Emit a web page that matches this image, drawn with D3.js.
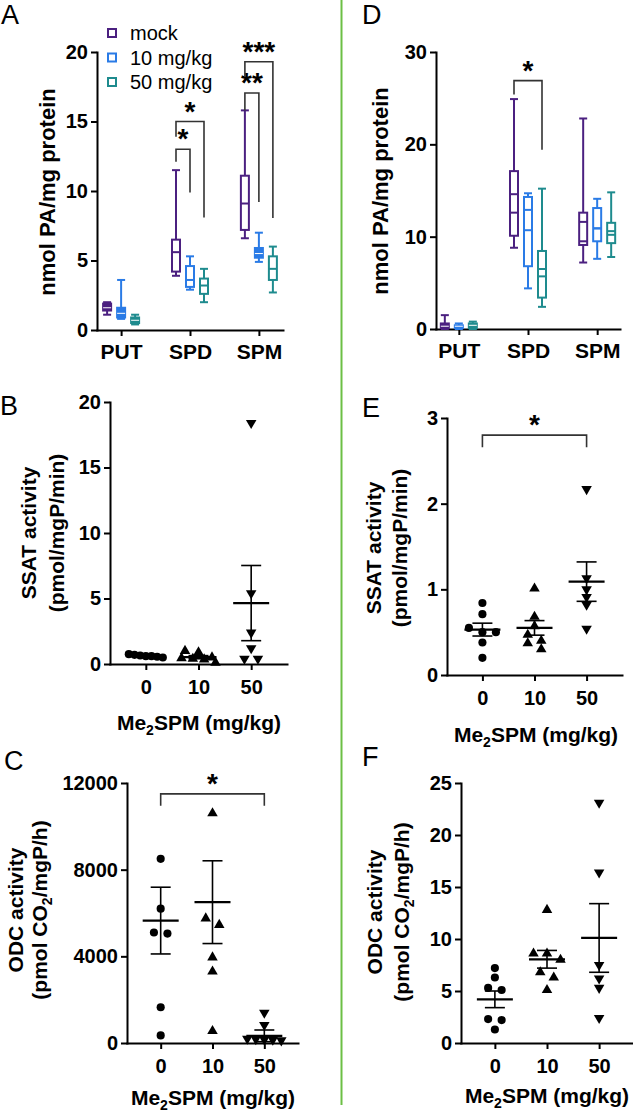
<!DOCTYPE html>
<html><head><meta charset="utf-8">
<script src="https://cdn.jsdelivr.net/npm/d3@7"></script>
<style>
body{margin:0;background:#fff;}
svg{display:block;}
</style></head><body>
<svg id="fig" width="633" height="1115"></svg>
<script>
// ---------- DATA ----------
const categories = ["PUT", "SPD", "SPM"];
const treatments = ["mock", "10 mg/kg", "50 mg/kg"];
const doses = ["0", "10", "50"];

// Panel A box stats [min, q1, median, q3, max] per category
const aMock = [[1.1, 1.4, 1.6, 1.9, 2.0], [3.9, 4.2, 5.6, 6.5, 11.5], [6.6, 7.2, 9.1, 11.1, 15.8]];
const a10   = [[0.8, 0.9, 1.2, 1.6, 3.6], [2.9, 3.1, 3.6, 4.6, 5.3], [4.9, 5.2, 5.5, 5.9, 7.0]];
const a50   = [[0.4, 0.5, 0.7, 0.9, 1.1], [2.0, 2.6, 3.2, 3.7, 4.4], [2.7, 3.6, 4.4, 5.3, 6.0]];
const aTicks = [0, 5, 10, 15, 20];
const aSigCat = ["SPD", "SPD", "SPM", "SPM"];
const aSigTo = [1, 2, 1, 2];
const aSigTop = [13.0, 15.0, 17.05, 19.3];
const aSigLeft = [12.1, 13.9, 15.8, 18.2];
const aSigRight = [9.9, 8.1, 9.2, 8.05];
const aSigLabel = ["*", "*", "**", "***"];

// Panel D box stats [min, q1, median, q3, max] + second line (mean)
const dMock = [[0, 0.1, 0.3, 0.6, 1.5], [8.8, 10.1, 12.6, 17.1, 24.9], [7.2, 9.1, 9.5, 12.6, 22.8]];
const d10   = [[0, 0.1, 0.3, 0.4, 0.6], [4.4, 6.8, 10.7, 14.3, 14.7], [7.6, 9.5, 10.9, 13.1, 14.1]];
const d50   = [[0, 0.1, 0.4, 0.6, 0.8], [2.4, 3.4, 5.7, 8.45, 15.2], [7.8, 9.3, 10.2, 11.5, 14.8]];
const dMockMean = [0.4, 14.6, 11.6];
const d10Mean = [0.3, 12.9, 10.9];
const d50Mean = [0.4, 6.5, 10.6];
const dTicks = [0, 10, 20, 30];
const dSigCat = ["SPD"];
const dSigTo = [2];
const dSigTop = [26.9];
const dSigLeft = [25.4];
const dSigRight = [19.4];
const dSigLabel = ["*"];

// Panel B: SSAT activity (pmol/mgP/min)
const b0 = [0.75, 0.7, 0.65, 0.6, 0.6, 0.55, 0.5];
const b10 = [1.0, 0.9, 0.5, 0.45, 0.4, 0.35, 0.1];
const b50 = [18.4, 5.4, 2.4, 1.2, 0.4, 0.4];
const bMean = [0.62, 0.52, 4.65];
const bSem = [0.05, 0.12, 2.87];
const bTicks = [0, 5, 10, 15, 20];

// Panel E: SSAT activity
const e0 = [0.84, 0.71, 0.55, 0.5, 0.5, 0.38, 0.2];
const e10 = [1.01, 0.68, 0.57, 0.47, 0.4, 0.37, 0.3];
const e50 = [2.17, 1.13, 1.0, 0.91, 0.82, 0.54];
const eMean = [0.53, 0.55, 1.09];
const eSem = [0.075, 0.085, 0.23];
const eTicks = [0, 1, 2, 3];

// Panel C: ODC activity (pmol CO2/mgP/h)
const c0 = [8500, 6200, 5100, 5050, 1650, 350];
const c10 = [10600, 5750, 5450, 3950, 3300, 550];
const c50 = [1400, 830, 200, 180, 160, 150, 120];
const cMean = [5650, 6500, 330];
const cSem = [1540, 1910, 270];
const cTicks = [0, 4000, 8000, 12000];

// Panel F: ODC activity
const f0 = [7.2, 6.3, 5.3, 5.1, 2.3, 2.2, 1.3];
const f10 = [12.8, 8.6, 8.6, 8.0, 6.8, 6.3, 5.1];
const f50 = [23.1, 16.4, 7.5, 6.2, 5.3, 2.4];
const fMean = [4.2, 8.05, 10.1];
const fSem = [0.8, 0.85, 3.3];
const fTicks = [0, 5, 10, 15, 20, 25];

// ---------- DRAWING ----------
const FONT = '"Liberation Sans", Arial, Helvetica, sans-serif';
const COLORS = ["#4b2080", "#2a7be6", "#1e8b8e"];
const svg = d3.select("#fig");
const fmt = d3.format("d");

function styleAxis(g, fs) {
  g.select(".domain").attr("stroke", "#000").attr("stroke-width", 2).attr("stroke-linecap", "square");
  g.selectAll(".tick line").attr("stroke", "#000").attr("stroke-width", 2);
  g.selectAll(".tick text").attr("fill", "#000")
    .style("font-family", FONT).style("font-weight", "bold").style("font-size", fs + "px");
}

function label(txt, x, y) {
  svg.append("text").attr("x", x).attr("y", y).text(txt)
    .style("font-family", FONT).style("font-size", "27px").attr("fill", "#000");
}

function yTitle(lines, xs, yc, fs) {
  lines.forEach((ln, i) => {
    const t = svg.append("text")
      .attr("transform", `translate(${xs[i]},${yc}) rotate(-90)`)
      .attr("text-anchor", "middle").attr("dy", "0.35em")
      .style("font-family", FONT).style("font-weight", "bold").style("font-size", (fs || 21) + "px");
    ln.forEach(part => {
      const s = t.append("tspan").text(part.t);
      if (part.sub) s.attr("dy", 5).style("font-size", "14px");
      if (part.after) s.attr("dy", -5);
    });
  });
}

function xTitle(x, y) {
  const t = svg.append("text").attr("x", x).attr("y", y).attr("text-anchor", "middle")
    .style("font-family", FONT).style("font-weight", "bold").style("font-size", "21px");
  t.append("tspan").text("Me");
  t.append("tspan").text("2").attr("dy", 5).style("font-size", "14px");
  t.append("tspan").text("SPM (mg/kg)").attr("dy", -5);
}

function bracket(xl, xr, yTop, yL, yR, lab, fs) {
  svg.append("path")
    .attr("d", `M${xl},${yL}V${yTop}H${xr}V${yR}`)
    .attr("fill", "none").attr("stroke", "#333").attr("stroke-width", 1.6);
  svg.append("text").attr("x", (xl + xr) / 2).attr("y", yTop + (fs || 0)).attr("text-anchor", "middle")
    .text(lab).style("font-family", FONT).style("font-weight", "bold").style("font-size", "28px");
}

function boxPanel(o) {
  const x = d3.scalePoint().domain(categories).range([o.left, o.right]).padding(o.pad);
  const y = d3.scaleLinear().domain([0, o.max]).range([o.bottom, o.top]);
  const off = d3.scalePoint().domain([0, 1, 2]).range([-14, 14]);
  const ya = svg.append("g").attr("transform", `translate(${o.left},0)`)
    .call(d3.axisLeft(y).tickValues(o.ticks).tickFormat(fmt).tickSize(6).tickSizeOuter(0).tickPadding(3));
  styleAxis(ya, 20);
  const xa = svg.append("g").attr("transform", `translate(0,${o.bottom})`)
    .call(d3.axisBottom(x).tickSize(6).tickSizeOuter(0).tickPadding(8));
  styleAxis(xa, 21);
  const bw = 8;
  o.stats.forEach((series, t) => {
    series.forEach((s, i) => {
      const cx = x(categories[i]) + off(t);
      const [mn, q1, md, q3, mx] = s;
      const g = svg.append("g").attr("stroke", COLORS[t]).attr("stroke-width", 2).attr("fill", "none");
      g.append("line").attr("x1", cx).attr("x2", cx).attr("y1", y(mn)).attr("y2", y(mx));
      g.append("line").attr("x1", cx - bw / 2).attr("x2", cx + bw / 2).attr("y1", y(mn)).attr("y2", y(mn));
      g.append("line").attr("x1", cx - bw / 2).attr("x2", cx + bw / 2).attr("y1", y(mx)).attr("y2", y(mx));
      const h = y(q1) - y(q3);
      g.append("rect").attr("x", cx - bw / 2).attr("width", bw)
        .attr("y", y(q3)).attr("height", Math.max(0.5, h)).attr("fill", h < 10 ? COLORS[t] : "#fff");
      g.append("line").attr("x1", cx - bw / 2).attr("x2", cx + bw / 2).attr("y1", y(md)).attr("y2", y(md))
        .attr("stroke", h < 10 ? "#fff" : COLORS[t]).attr("stroke-width", h < 10 ? 1 : 2);
      if (o.means && h >= 10) {
        const m = o.means[t][i];
        g.append("line").attr("x1", cx - bw / 2).attr("x2", cx + bw / 2).attr("y1", y(m)).attr("y2", y(m));
      }
    });
  });
  o.sig.cat.forEach((c, k) => {
    const xl = x(c) + off(0), xr = x(c) + off(o.sig.to[k]);
    bracket(xl, xr, y(o.sig.top[k]), y(o.sig.left[k]), y(o.sig.right[k]), o.sig.label[k], -1);
  });
  return { x, y };
}

function spread(vals, y, cx, s, maxW, h) {
  const pts = vals.map(v => ({ v, py: y(v) })).sort((a, b) => a.py - b.py);
  const rows = [];
  pts.forEach(p => {
    const r = rows[rows.length - 1];
    if (r && p.py - r[0].py < h) r.push(p); else rows.push([p]);
  });
  rows.forEach(r => {
    const n = r.length;
    const step = n > 1 ? Math.min(s, maxW / (n - 1)) : 0;
    r.forEach((p, k) => p.px = cx + (k - (n - 1) / 2) * step);
  });
  return pts;
}

function scatterPanel(o) {
  const x = d3.scalePoint().domain(doses).range([o.left, o.right]).padding(o.pad);
  const y = d3.scaleLinear().domain([0, o.max]).range([o.bottom, o.top]);
  const ya = svg.append("g").attr("transform", `translate(${o.left},0)`)
    .call(d3.axisLeft(y).tickValues(o.ticks).tickFormat(fmt).tickSize(6).tickSizeOuter(0).tickPadding(3));
  styleAxis(ya, 20);
  const xa = svg.append("g").attr("transform", `translate(0,${o.bottom})`)
    .call(d3.axisBottom(x).tickSize(6).tickSizeOuter(0).tickPadding(10));
  styleAxis(xa, 20);
  const shapes = [d3.symbolCircle, d3.symbolTriangle, d3.symbolTriangle];
  const sizes = [52, 48, 48];
  o.groups.forEach((vals, i) => {
    const cx = x(doses[i]);
    const pts = spread(vals, y, cx, 13.5, 34, 7);
    svg.append("g").selectAll("path").data(pts).join("path")
      .attr("d", d3.symbol().type(shapes[i]).size(sizes[i]))
      .attr("transform", d => `translate(${d.px},${d.py})` + (i === 2 ? " rotate(180)" : ""))
      .attr("fill", "#000");
    const m = o.mean[i], s = o.sem[i];
    const g = svg.append("g").attr("stroke", "#000").attr("fill", "none");
    g.append("line").attr("x1", cx - 18).attr("x2", cx + 18).attr("y1", y(m)).attr("y2", y(m)).attr("stroke-width", 2.2);
    g.append("line").attr("x1", cx).attr("x2", cx).attr("y1", y(m - s)).attr("y2", y(m + s)).attr("stroke-width", 1.6);
    g.append("line").attr("x1", cx - 10).attr("x2", cx + 10).attr("y1", y(m + s)).attr("y2", y(m + s)).attr("stroke-width", 1.6);
    g.append("line").attr("x1", cx - 10).attr("x2", cx + 10).attr("y1", y(m - s)).attr("y2", y(m - s)).attr("stroke-width", 1.6);
  });
  if (o.sig) {
    bracket(x(doses[0]), x(doses[2]), y(o.sig.top), y(o.sig.end), y(o.sig.end), "*", -1);
  }
  return { x, y };
}

// Green divider
svg.append("line").attr("x1", 341.5).attr("x2", 341.5).attr("y1", 0).attr("y2", 1105)
  .attr("stroke", "#6cbf45").attr("stroke-width", 2);

// Panel A
boxPanel({ left: 97, right: 283, pad: 0.35, bottom: 330, top: 52, max: 20, ticks: aTicks,
  stats: [aMock, a10, a50], means: null,
  sig: { cat: aSigCat, to: aSigTo, top: aSigTop, left: aSigLeft, right: aSigRight, label: aSigLabel } });
label("A", 1, 24);
yTitle([[{ t: "nmol PA/mg protein" }]], [47], 192, 22);
// Legend
treatments.forEach((t, i) => {
  const yy = [33, 57.5, 82][i];
  svg.append("rect").attr("x", 108).attr("y", yy - 4).attr("width", 8).attr("height", 8)
    .attr("fill", "#fff").attr("stroke", COLORS[i]).attr("stroke-width", 2);
  svg.append("text").attr("x", 130).attr("y", yy).attr("dy", "0.35em").text(t)
    .style("font-family", FONT).style("font-size", "20px");
});

// Panel D
boxPanel({ left: 436, right: 620, pad: 0.33, bottom: 329, top: 52, max: 30, ticks: dTicks,
  stats: [dMock, d10, d50], means: [dMockMean, d10Mean, d50Mean],
  sig: { cat: dSigCat, to: dSigTo, top: dSigTop, left: dSigLeft, right: dSigRight, label: dSigLabel } });
label("D", 362, 24);
yTitle([[{ t: "nmol PA/mg protein" }]], [380], 191, 22);

// Panel B
scatterPanel({ left: 110, right: 287, pad: 0.68, bottom: 664, top: 402, max: 20, ticks: bTicks,
  groups: [b0, b10, b50], mean: bMean, sem: bSem });
label("B", 0, 415);
yTitle([[{ t: "SSAT activity" }], [{ t: "(pmol/mgP/min)" }]], [29, 57], 533);
xTitle(199, 730);

// Panel E
scatterPanel({ left: 447, right: 622, pad: 0.68, bottom: 675, top: 418, max: 3, ticks: eTicks,
  groups: [e0, e10, e50], mean: eMean, sem: eSem, sig: { top: 2.8, end: 2.66 } });
label("E", 362, 417);
yTitle([[{ t: "SSAT activity" }], [{ t: "(pmol/mgP/min)" }]], [374, 400], 548);
xTitle(536, 742);

// Panel C
scatterPanel({ left: 127, right: 298, pad: 0.65, bottom: 1043, top: 783, max: 12000, ticks: cTicks,
  groups: [c0, c10, c50], mean: cMean, sem: cSem, sig: { top: 11500, end: 10950 } });
label("C", 4, 770);
yTitle([[{ t: "ODC activity" }], [{ t: "(pmol CO" }, { t: "2", sub: true }, { t: "/mgP/h)", after: true }]], [16, 40], 910);
xTitle(213, 1105);

// Panel F
scatterPanel({ left: 461, right: 633, pad: 0.65, bottom: 1043, top: 783, max: 25, ticks: fTicks,
  groups: [f0, f10, f50], mean: fMean, sem: fSem });
label("F", 362, 766);
yTitle([[{ t: "ODC activity" }], [{ t: "(pmol CO" }, { t: "2", sub: true }, { t: "/mgP/h)", after: true }]], [375, 402], 912);
xTitle(547, 1103);
</script>
</body></html>
